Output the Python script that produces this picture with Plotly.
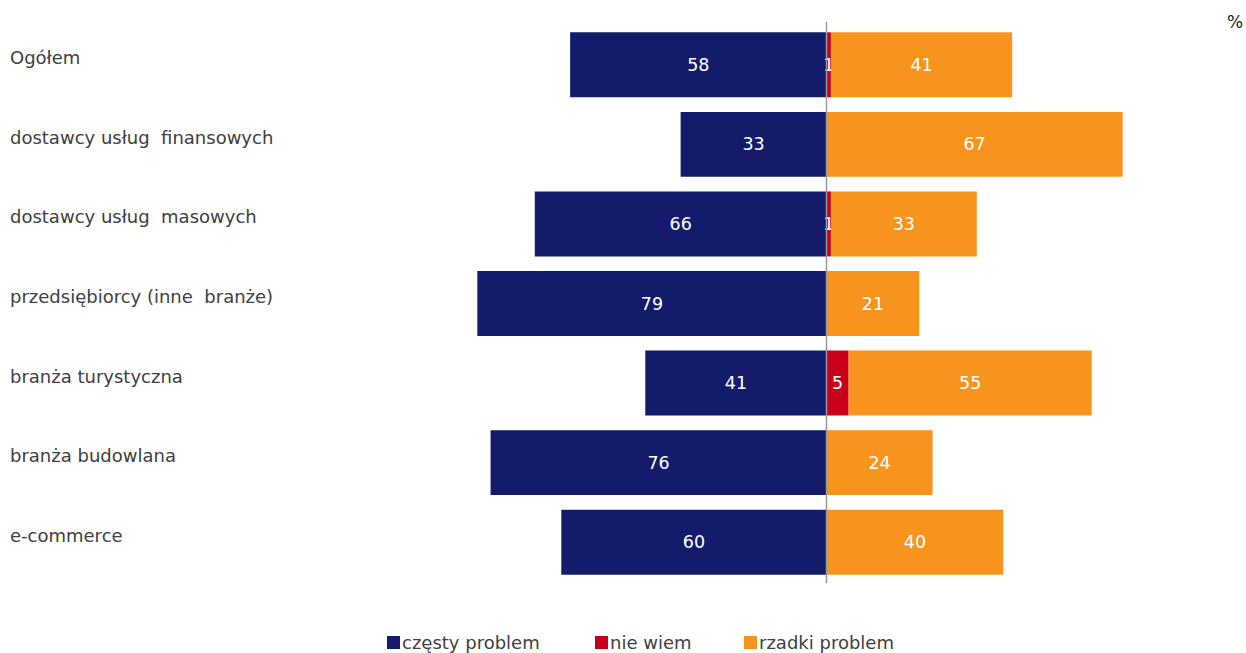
import plotly.graph_objects as go

# Survey answers (percent) per respondent group
categories = [
    "Ogółem",
    "dostawcy usług\u00a0 finansowych",
    "dostawcy usług\u00a0 masowych",
    "przedsiębiorcy (inne\u00a0 branże)",
    "branża turystyczna",
    "branża budowlana",
    "e-commerce",
]
frequent = [58, 33, 66, 79, 41, 76, 60]
unknown = [1, None, 1, None, 5, None, None]
rare = [41, 67, 33, 21, 55, 24, 40]

series_names = ["częsty problem", "nie wiem", "rzadki problem"]
colors = ["#131B6A", "#C9001B", "#F7941E"]

FONT = "DejaVu Sans"
TEXT_COLOR = "#404040"
W, H = 1246, 653
M = dict(l=300, r=46, t=25, b=71)
PX_PER_UNIT = 4.42
CENTER_PX = 826.5
x_min = -(CENTER_PX - M["l"]) / PX_PER_UNIT
x_max = (W - M["r"] - CENTER_PX) / PX_PER_UNIT
plot_w = W - M["l"] - M["r"]
plot_h = H - M["t"] - M["b"]


def px_x(px):
    return (px - M["l"]) / plot_w


def px_y(py):
    return 1 - (py - M["t"]) / plot_h


fig = go.Figure()

bar_common = dict(
    orientation="h",
    textposition="inside",
    insidetextanchor="middle",
    insidetextfont=dict(color="white", size=17.5, family=FONT),
    hoverinfo="skip",
    showlegend=False,
)

fig.add_trace(go.Bar(
    y=categories, x=[-v for v in frequent], text=[str(v) for v in frequent],
    marker=dict(color=colors[0], line=dict(width=0)), name=series_names[0], **bar_common,
))
fig.add_trace(go.Bar(
    y=categories, x=unknown, text=[str(v) if v else "" for v in unknown],
    marker=dict(color=colors[1], line=dict(width=0)), name=series_names[1], **bar_common,
))
fig.add_trace(go.Bar(
    y=categories, x=rare, text=[str(v) for v in rare],
    marker=dict(color=colors[2], line=dict(width=0)), name=series_names[2], **bar_common,
))

annotations = []
# Category labels, left aligned at the far left
for c in categories:
    annotations.append(dict(
        x=px_x(8), xref="paper", y=c, yref="y", yshift=7,
        text=c, showarrow=False, xanchor="left", yanchor="middle",
        font=dict(size=18, color=TEXT_COLOR, family=FONT),
    ))
annotations.append(dict(
    x=px_x(1245), xref="paper", y=px_y(22), yref="paper",
    text="%", showarrow=False, xanchor="right", yanchor="middle",
    font=dict(size=17, color="#222222", family=FONT),
))

# Legend row at the bottom
shapes = []
legend_x = [387, 595, 744]
for name, col, lx in zip(series_names, colors, legend_x):
    shapes.append(dict(
        type="rect", xref="paper", yref="paper",
        x0=px_x(lx), x1=px_x(lx + 13), y0=px_y(649), y1=px_y(636),
        fillcolor=col, line=dict(width=0), layer="above",
    ))
    annotations.append(dict(
        x=px_x(lx + 13), xref="paper", y=px_y(642.5), yref="paper",
        text=name, showarrow=False, xanchor="left", yanchor="middle",
        font=dict(size=18, color=TEXT_COLOR, family=FONT),
    ))

# Central divider line
shapes.append(dict(
    type="line", xref="x", yref="paper", x0=0, x1=0, y0=px_y(583), y1=px_y(22),
    line=dict(color="#999999", width=1.5), layer="above",
))

fig.update_layout(
    width=W, height=H, margin=M,
    barmode="relative", bargap=0.184,
    plot_bgcolor="white", paper_bgcolor="white",
    font=dict(family=FONT, color=TEXT_COLOR),
    uniformtext=dict(minsize=17.5, mode="show"),
    xaxis=dict(range=[x_min, x_max], visible=False, fixedrange=True),
    yaxis=dict(categoryorder="array", categoryarray=categories, autorange=False,
               range=[6.5, -0.5], visible=False, fixedrange=True),
    annotations=annotations, shapes=shapes,
)

fig.write_html("out.html", config=dict(displayModeBar=False))
